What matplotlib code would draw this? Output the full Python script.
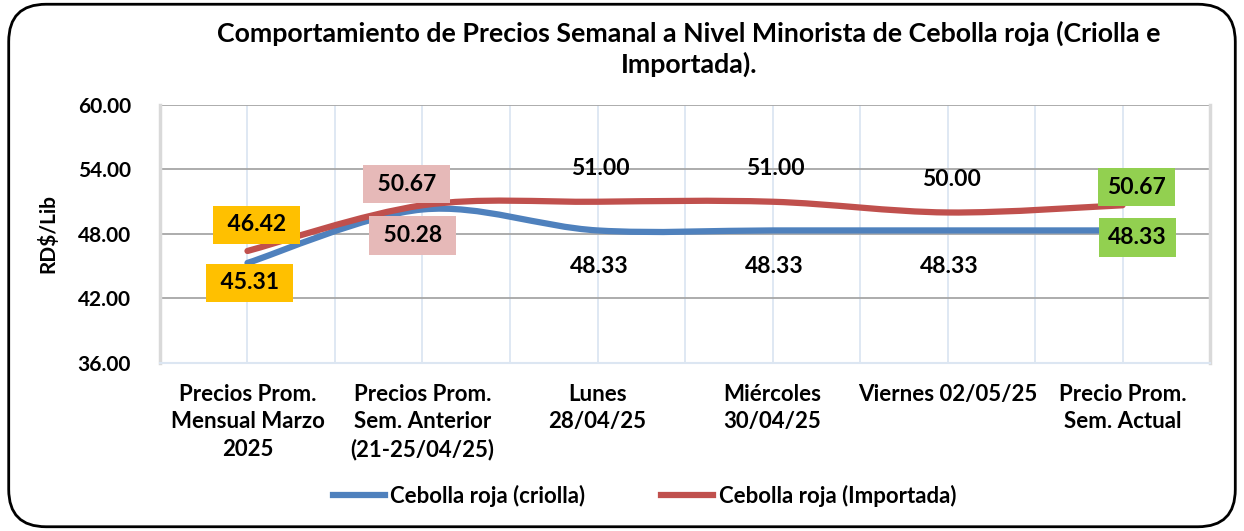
import matplotlib
matplotlib.use("Agg")
import matplotlib.pyplot as plt
from matplotlib.path import Path
from matplotlib.patches import PathPatch, FancyBboxPatch
from matplotlib.lines import Line2D

plt.rcParams['font.family'] = ['Lato', 'DejaVu Sans']
PESO = "bold"

# Données
categorias = ["Precios Prom.\nMensual Marzo\n2025",
              "Precios Prom.\nSem. Anterior\n(21-25/04/25)",
              "Lunes\n28/04/25",
              "Miércoles\n30/04/25",
              "Viernes 02/05/25",
              "Precio Prom.\nSem. Actual"]
criolla = [45.31, 50.28, 48.33, 48.33, 48.33, 48.33]
importada = [46.42, 50.67, 51.00, 51.00, 50.00, 50.67]
y_ticks = [36, 42, 48, 54, 60]

titulo = "Comportamiento de Precios Semanal a Nivel Minorista de Cebolla roja (Criolla e\nImportada)."
serie_nombres = ["Cebolla roja (criolla)", "Cebolla roja (Importada)"]

azul = "#4F81BD"
rojo = "#C0504D"
amarillo = "#FFC000"
rosa = "#E6B9B8"
verde = "#92D050"


# courbe lissée façon Excel (Bezier, Catmull-Rom)
def smooth_path(xs, ys):
    pts = list(zip(xs, ys))
    n = len(pts)
    verts = [pts[0]]
    codes = [Path.MOVETO]
    for i in range(n - 1):
        p0 = pts[i - 1] if i > 0 else pts[i]
        p1 = pts[i]
        p2 = pts[i + 1]
        p3 = pts[i + 2] if i + 2 < n else pts[i + 1]
        c1 = (p1[0] + (p2[0] - p0[0]) / 6, p1[1] + (p2[1] - p0[1]) / 6)
        c2 = (p2[0] - (p3[0] - p1[0]) / 6, p2[1] - (p3[1] - p1[1]) / 6)
        verts += [c1, c2, p2]
        codes += [Path.CURVE4] * 3
    return Path(verts, codes)


fig = plt.figure(figsize=(12.44, 5.31), dpi=100)
ax = fig.add_axes([0.1286, 0.3164, 0.8441, 0.4859])

x = list(range(len(categorias)))
for vals, col in [(criolla, azul), (importada, rojo)]:
    patch = PathPatch(smooth_path(x, vals), facecolor="none", edgecolor=col,
                      lw=4.5, capstyle="round", zorder=3)
    ax.add_patch(patch)

ax.set_xlim(-0.5, len(categorias) - 0.5)
ax.set_ylim(36, 60)
ax.set_yticks(y_ticks)
ax.set_yticklabels([f"{v:.2f}" for v in y_ticks], fontsize=15, fontweight=PESO)
ax.set_xticks(x)
ax.set_xticklabels(categorias, fontsize=16, fontweight=PESO, linespacing=1.38)
ax.set_xticks([i + 0.5 for i in x[:-1]], minor=True)
ax.tick_params(which="both", length=0)
ax.tick_params(axis="x", pad=15)
ax.tick_params(axis="y", pad=21)
ax.grid(axis="y", color="#A6A6A6", lw=1.3)
ax.grid(axis="x", which="both", color="#DCE6F2", lw=1.3)
ax.set_axisbelow(True)
ax.spines["top"].set_visible(False)
ax.spines["left"].set_color("#D9D9D9")
ax.spines["right"].set_color("#D9D9D9")
ax.spines["left"].set_linewidth(2.5)
ax.spines["right"].set_linewidth(2.5)
ax.spines["bottom"].set_color("#DCE6F2")
ax.spines["bottom"].set_linewidth(1.5)
ax.set_ylabel("RD$/Lib", fontsize=15, fontweight=PESO)
ax.yaxis.set_label_coords(-0.097, 0.5)

# étiquettes (décalage en pixels, couleur de fond)
off_criolla = [(2, -20), (-10, -26), (2, -36), (2, -36), (2, -36), (15, -7)]
off_import = [(9, 26), (-16, 21), (3, 33), (3, 33), (4, 33), (14, 18)]
fondos = [amarillo, rosa, None, None, None, verde]

for vals, offsets in [(criolla, off_criolla), (importada, off_import)]:
    for i, v in enumerate(vals):
        fc = fondos[i]
        txt = f"{v:.2f}"
        bbox = None
        if fc is not None:
            if fc != verde:
                txt = " " + txt + " "
            bbox = dict(boxstyle="square,pad=0.38", fc=fc, ec="none")
        ax.annotate(txt, xy=(i, v), xytext=offsets[i], textcoords="offset pixels",
                    ha="center", va="center", fontsize=16.5, fontweight=PESO,
                    bbox=bbox, zorder=5)

fig.text(0.554, 0.908, titulo, ha="center", va="center", fontsize=19.3,
         fontweight=PESO, linespacing=1.25)

handles = [Line2D([], [], color=azul, lw=4.5), Line2D([], [], color=rojo, lw=4.5)]
fig.legend(handles, serie_nombres, loc="center", bbox_to_anchor=(0.518, 0.066),
           ncol=2, frameon=False, handlelength=2.35,
           columnspacing=3.4, handletextpad=0.25, prop=dict(weight=PESO, size=16))

# cadre arrondi
cadre = FancyBboxPatch((0.007, 0.008), 0.986, 0.984, transform=fig.transFigure,
                       boxstyle="round,pad=0,rounding_size=0.03",
                       fc="none", ec="black", lw=2, mutation_aspect=1244 / 531)
fig.patches.append(cadre)

fig.savefig("out.png", dpi=100)
